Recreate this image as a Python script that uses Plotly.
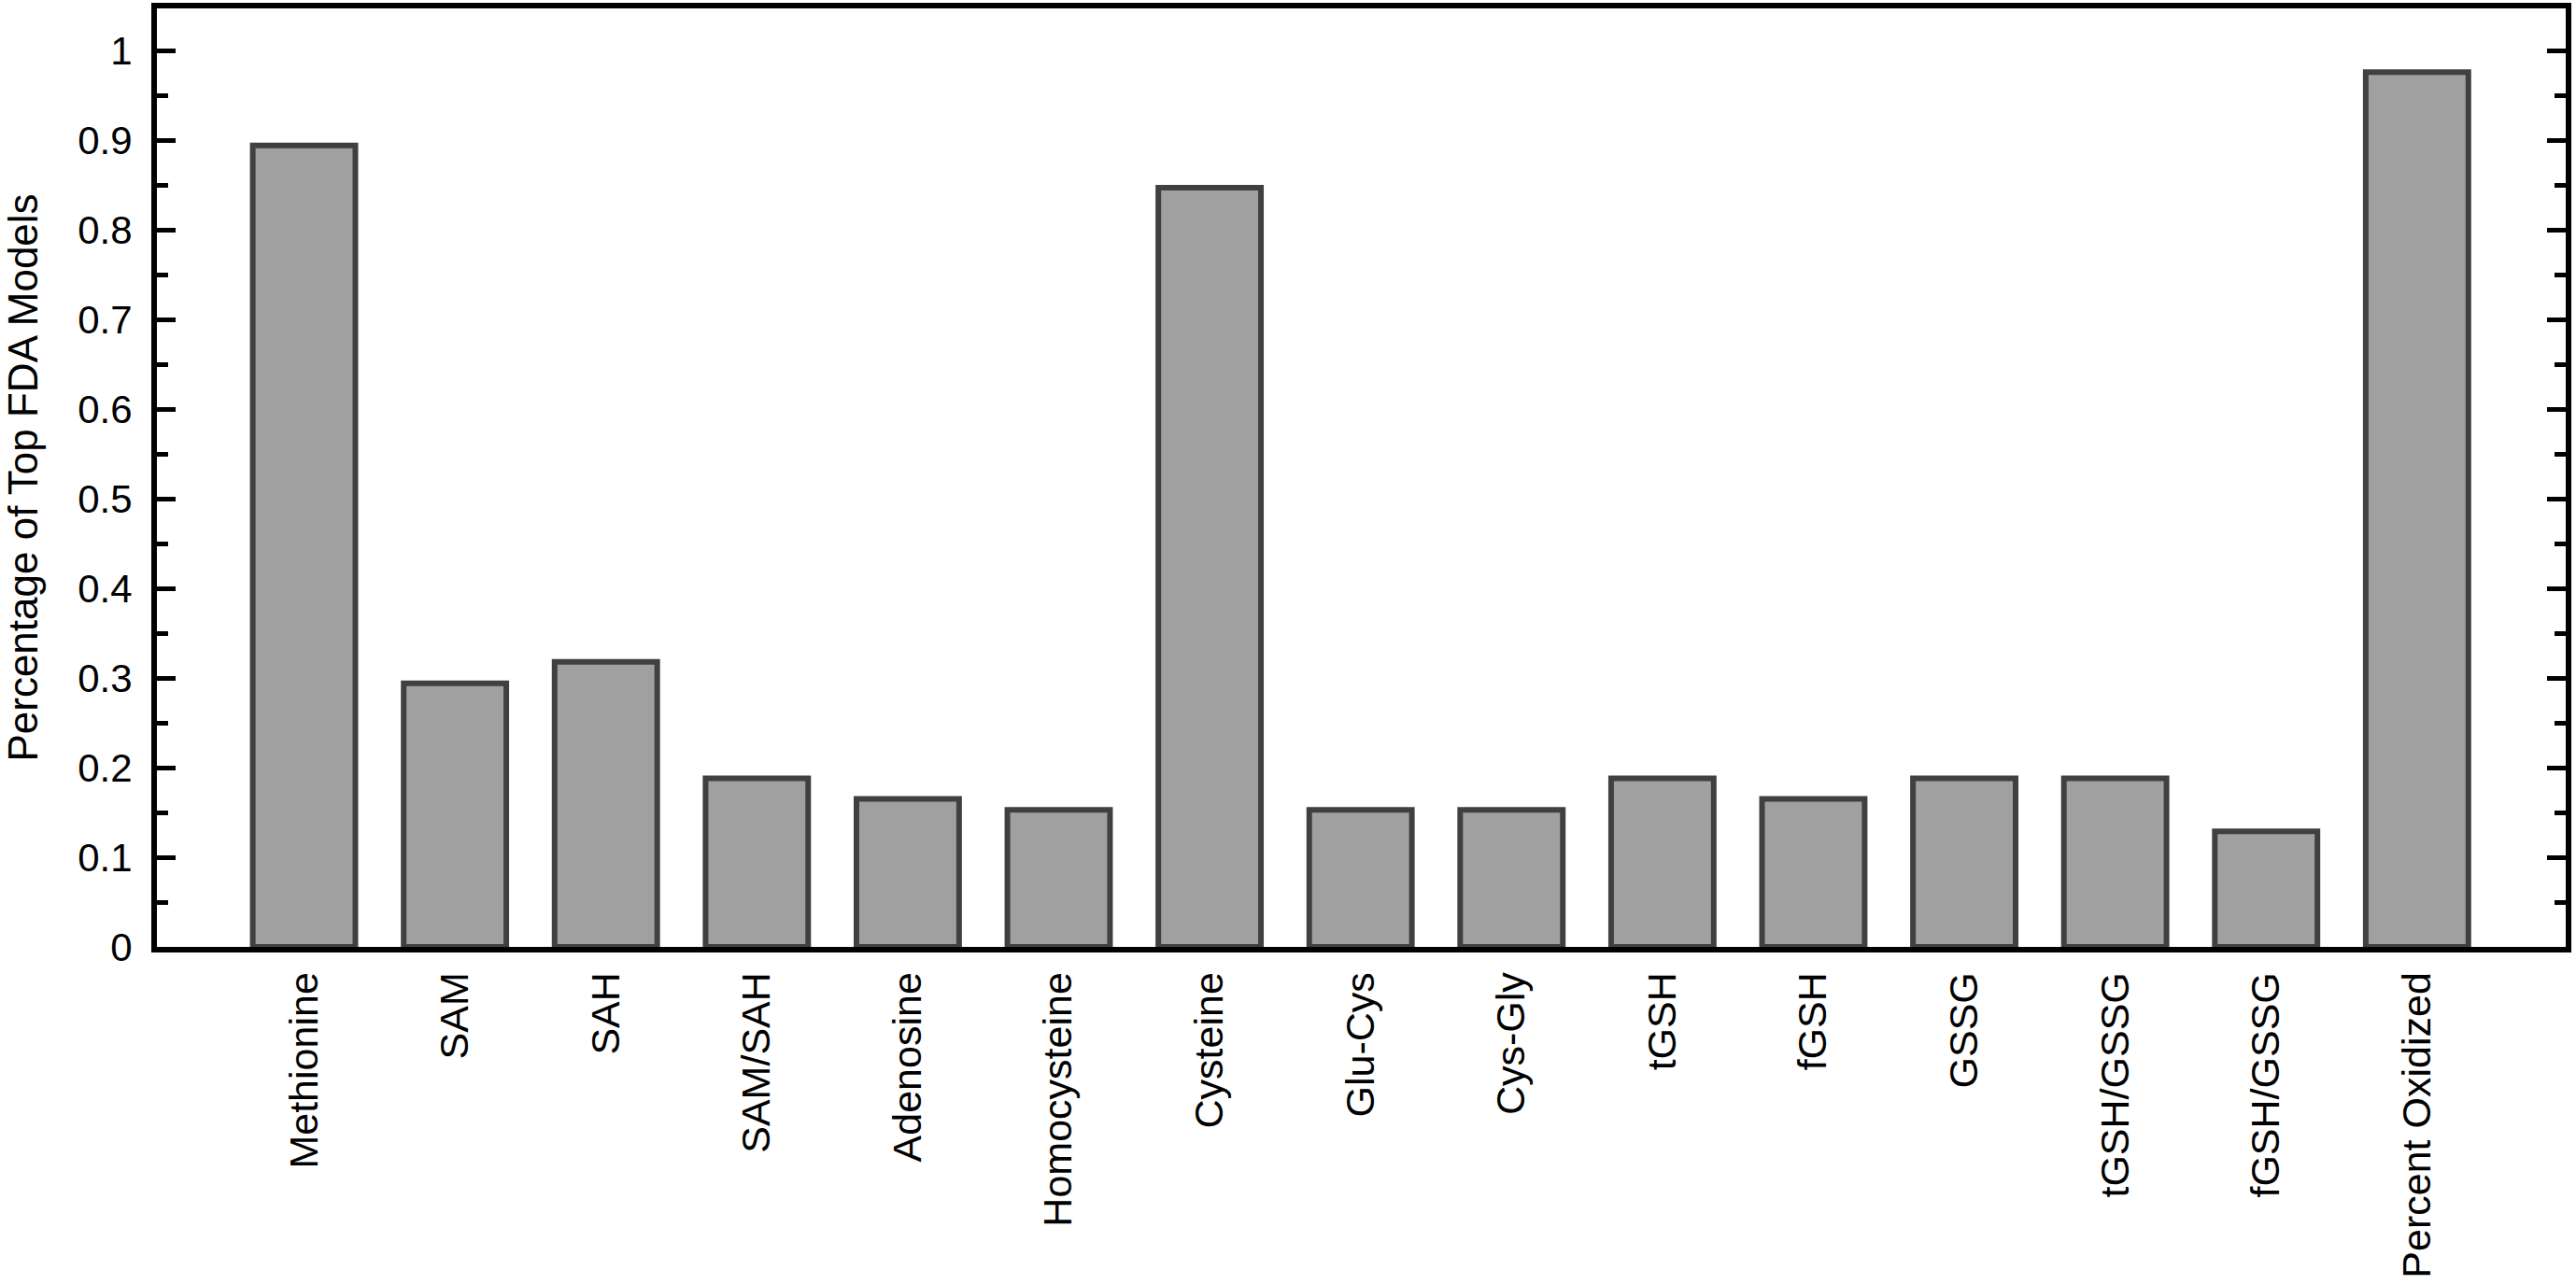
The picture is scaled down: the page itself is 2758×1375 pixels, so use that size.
import plotly.graph_objects as go

categories = ["Methionine", "SAM", "SAH", "SAM/SAH", "Adenosine", "Homocysteine",
              "Cysteine", "Glu-Cys", "Cys-Gly", "tGSH", "fGSH", "GSSG",
              "tGSH/GSSG", "fGSH/GSSG", "Percent Oxidized"]
values = [0.894, 0.294, 0.318, 0.188, 0.165, 0.153,
          0.847, 0.153, 0.153, 0.188, 0.165, 0.188,
          0.188, 0.129, 0.976]
y_tick_values = [0, 0.1, 0.2, 0.3, 0.4, 0.5, 0.6, 0.7, 0.8, 0.9, 1]
y_tick_labels = ["0", "0.1", "0.2", "0.3", "0.4", "0.5", "0.6", "0.7", "0.8", "0.9", "1"]
y_title = "Percentage of Top FDA Models"

FONT = "Liberation Sans, Arial, sans-serif"

fig = go.Figure()
fig.add_trace(go.Bar(
    x=categories,
    y=values,
    width=0.68,
    marker=dict(color="#a0a0a0", line=dict(color="#404040", width=6)),
    showlegend=False,
))

fig.update_layout(
    width=2758,
    height=1375,
    margin=dict(l=168, r=11, t=9, b=361),
    paper_bgcolor="white",
    plot_bgcolor="white",
    font=dict(family=FONT, size=43, color="black"),
    xaxis=dict(
        type="category",
        range=[-0.975, 14.985],
        showline=True,
        linecolor="black",
        linewidth=6,
        mirror=True,
        ticks="",
        tickangle=-90,
        showgrid=False,
        zeroline=False,
        automargin=False,
        tickfont=dict(family=FONT, size=43, color="black"),
        ticklabelstandoff=4,
    ),
    yaxis=dict(
        range=[0, 1.047],
        tickvals=y_tick_values,
        ticktext=y_tick_labels,
        showline=True,
        linecolor="black",
        linewidth=6,
        mirror="ticks",
        ticks="inside",
        ticklen=20,
        tickwidth=5,
        tickcolor="black",
        minor=dict(ticks="inside", ticklen=12, tickwidth=5, tickcolor="black", dtick=0.05, tick0=0),
        showgrid=False,
        zeroline=False,
        automargin=False,
        tickfont=dict(family=FONT, size=42, color="black"),
        ticklabelstandoff=12,
        title=dict(text=y_title, font=dict(family=FONT, size=44, color="black"), standoff=36),
    ),
)

fig.write_html("out.html", config={"displayModeBar": False},
               post_script="document.body.style.margin='0';document.body.style.overflow='hidden';")
